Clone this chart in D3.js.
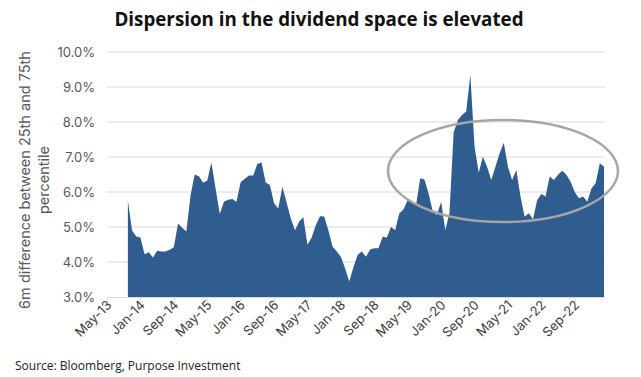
<!DOCTYPE html>
<html>
<head>
<meta charset="utf-8">
<script src="https://cdn.jsdelivr.net/npm/d3@7"></script>
<style>
  body { margin: 0; background: #fff; }
  svg { display: block; }
</style>
</head>
<body>
<svg id="chart" width="641" height="377"></svg>
<script>
// monthly categories May-13 .. Apr-23
var months = d3.timeMonth.range(new Date(2013, 4, 1), new Date(2023, 4, 1)).map(d3.timeFormat('%b-%y'));

// 6m spread, % (blank until Oct-13)
var spread = [
  null, null, null, null, null,
  5.75, 4.90, 4.73, 4.70, 4.22, 4.28, 4.13, 4.32, 4.30, 4.30,
  4.35, 4.42, 5.10, 4.98, 4.87, 5.90, 6.50, 6.45, 6.27, 6.32,
  6.84, 6.10, 5.37, 5.72, 5.78, 5.80, 5.72, 6.28, 6.38, 6.47,
  6.47, 6.80, 6.84, 6.27, 6.20, 5.68, 5.53, 6.15, 5.70, 5.25,
  4.91, 5.15, 5.28, 4.49, 4.70, 5.05, 5.31, 5.30, 4.91, 4.44,
  4.30, 4.15, 3.82, 3.44, 3.85, 4.20, 4.30, 4.15, 4.36, 4.39,
  4.39, 4.72, 4.70, 5.00, 4.91, 5.39, 5.50, 5.77, 5.72, 5.63,
  6.39, 6.36, 5.96, 5.44, 5.34, 5.72, 4.91, 5.40, 7.70, 8.06,
  8.20, 8.30, 9.34, 7.30, 6.55, 7.01, 6.72, 6.34, 6.72, 7.10,
  7.41, 6.72, 6.34, 6.63, 5.87, 5.29, 5.39, 5.22, 5.77, 5.94,
  5.87, 6.44, 6.34, 6.49, 6.61, 6.49, 6.29, 6.00, 5.82, 5.87,
  5.72, 6.10, 6.25, 6.82, 6.72
];

var xTicks = ['May-13', 'Jan-14', 'Sep-14', 'May-15', 'Jan-16', 'Sep-16', 'May-17', 'Jan-18',
  'Sep-18', 'May-19', 'Jan-20', 'Sep-20', 'May-21', 'Jan-22', 'Sep-22'];
var yTicks = [3, 4, 5, 6, 7, 8, 9, 10];

var svg = d3.select('#chart');
var fontAxis = 'Inter, "Noto Sans", sans-serif';

var x = d3.scalePoint().domain(months).range([107, 604]);
var y = d3.scaleLinear().domain([3, 10]).range([297, 52]);

// title
svg.append('text')
  .attr('x', 319)
  .attr('y', 26)
  .attr('text-anchor', 'middle')
  .style('font-family', '"Open Sans", sans-serif')
  .style('font-weight', 'bold')
  .style('font-size', '18.8px')
  .style('fill', '#111')
  .text('Dispersion in the dividend space is elevated');

// gridlines
svg.append('g')
  .selectAll('line')
  .data(yTicks.slice(1))
  .enter().append('line')
  .attr('x1', 107).attr('x2', 605)
  .attr('y1', d => y(d)).attr('y2', d => y(d))
  .attr('stroke', '#d9d9d9')
  .attr('stroke-width', 1.2);

// area
var area = d3.area()
  .defined(d => d != null)
  .x((d, i) => x(months[i]))
  .y0(y(3))
  .y1(d => y(d));

svg.append('path')
  .datum(spread)
  .attr('d', area)
  .attr('fill', '#2f5d90');

// y axis
var yAxisG = svg.append('g')
  .attr('transform', 'translate(107,0)')
  .call(d3.axisLeft(y).tickValues(yTicks).tickSize(0).tickPadding(12).tickFormat(d => d.toFixed(1) + '%'));
yAxisG.select('.domain').remove();
yAxisG.selectAll('text')
  .style('font-family', fontAxis)
  .style('font-size', '13px')
  .style('fill', '#595959');

// x axis
var xAxisG = svg.append('g')
  .attr('transform', 'translate(0,' + y(3) + ')')
  .call(d3.axisBottom(x).tickValues(xTicks).tickSize(5).tickSizeOuter(0));
xAxisG.select('.domain').attr('stroke', '#d9d9d9').attr('d', 'M107,0.5H605');
xAxisG.selectAll('.tick line').attr('stroke', '#d9d9d9');
xAxisG.selectAll('text')
  .style('font-family', fontAxis)
  .style('font-size', '13px')
  .style('fill', '#404040')
  .attr('text-anchor', 'end')
  .attr('dy', 0)
  .attr('transform', 'translate(2,6) rotate(-45)')
  .attr('y', 4)
  .attr('x', 0);

// y axis title
var yTitle = svg.append('text')
  .attr('transform', 'translate(30,180) rotate(-90)')
  .attr('text-anchor', 'middle')
  .style('font-family', fontAxis)
  .style('font-size', '14.5px')
  .style('fill', '#595959');
yTitle.append('tspan').attr('x', 0).attr('y', 0).text('6m difference between 25th and 75th');
yTitle.append('tspan').attr('x', 0).attr('y', 19).text('percentile');

// highlight ellipse
svg.append('ellipse')
  .attr('cx', 503)
  .attr('cy', 171)
  .attr('rx', 115)
  .attr('ry', 51)
  .attr('fill', 'none')
  .attr('stroke', '#a6a6a6')
  .attr('stroke-width', 2.5);

// source
svg.append('text')
  .attr('x', 15)
  .attr('y', 370)
  .style('font-family', '"Open Sans", sans-serif')
  .style('font-size', '12px')
  .style('fill', '#222')
  .text('Source: Bloomberg, Purpose Investment');
</script>
</body>
</html>
